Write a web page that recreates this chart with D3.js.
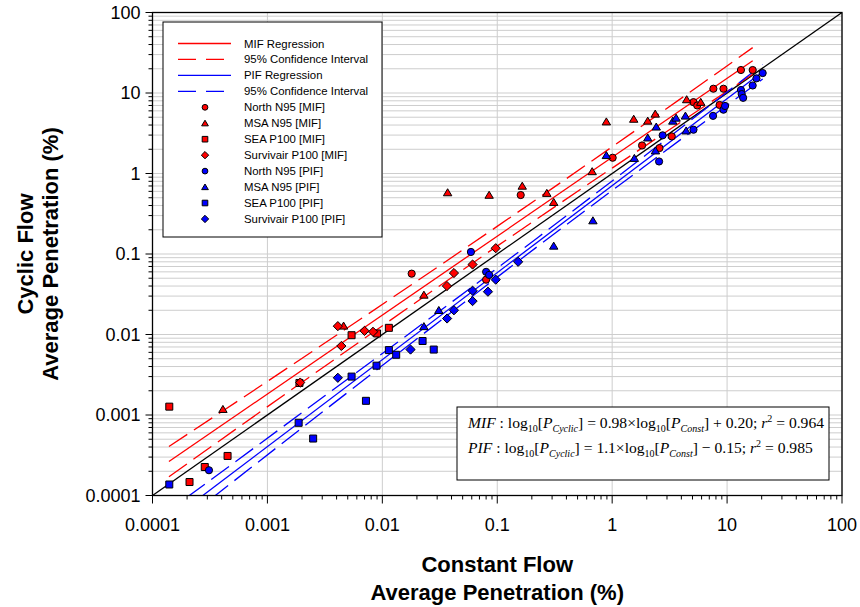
<!DOCTYPE html>
<html>
<head>
<meta charset="utf-8">
<script src="https://cdn.jsdelivr.net/npm/d3@7"></script>
<style>
body{margin:0;background:#fff;}
text{font-family:Arial,"Liberation Sans",sans-serif;}
</style>
</head>
<body>
<div id="chart-area"></div>
<script>
// data: [constant flow %, cyclic flow %]
var northMIF = [[0.018,0.057],[0.16,0.54],[0.080,0.048],[1.01,1.57],[1.82,2.23],[2.58,2.07],[3.3,2.89],[5.1,7.7],[5.5,7.0],[7.6,11.3],[9.3,11.3],[8.6,7.1],[13.2,19.3],[16.7,19.3]];
var msaMIF = [[0.00041,0.00118],[0.0046,0.0128],[0.023,0.031],[0.037,0.58],[0.085,0.54],[0.165,0.70],[0.27,0.57],[0.31,0.44],[0.67,1.06],[0.89,4.4],[1.54,4.75],[2.04,4.5],[2.37,5.5],[4.45,8.3],[5.9,7.7]];
var seaMIF = [[0.00014,0.00127],[0.00021,0.000147],[0.000285,0.000226],[0.00045,0.00031],[0.0019,0.0025],[0.0054,0.0098],[0.0090,0.0103],[0.0114,0.0121]];
var survMIF = [[0.00193,0.00253],[0.0041,0.0127],[0.0044,0.0072],[0.0070,0.0111],[0.0083,0.0108],[0.0365,0.040],[0.042,0.058],[0.061,0.074],[0.097,0.118]];
var northPIF = [[0.00031,0.000206],[0.059,0.106],[0.080,0.060],[0.085,0.055],[2.56,1.41],[2.75,2.98],[5.1,3.5],[7.55,5.2],[9.3,6.2],[9.6,6.9],[13.2,10.9],[13.4,9.7],[13.8,8.7],[16.7,12.4],[18.0,15.2],[20.4,17.7]];
var msaPIF = [[0.023,0.0126],[0.031,0.020],[0.31,0.126],[0.68,0.26],[0.89,1.68],[1.56,1.55],[2.04,2.78],[2.38,1.92],[2.42,3.8],[3.37,4.5],[3.6,4.9],[4.34,5.2],[4.4,3.4]];
var seaPIF = [[0.00014,0.000137],[0.00187,0.0008],[0.0025,0.00051],[0.0054,0.0030],[0.0072,0.0015],[0.0089,0.0041],[0.0114,0.0064],[0.0132,0.0056],[0.0224,0.0083],[0.028,0.0065]];
var survPIF = [[0.0041,0.0029],[0.0176,0.0065],[0.0366,0.0158],[0.042,0.020],[0.061,0.026],[0.061,0.035],[0.083,0.034],[0.097,0.048],[0.152,0.080]];

// regression lines and 95% bands
var mifFit = [[0.000139,0.000264],[16.7,25.1]];
var mifUpper = [[0.000139,0.000406],[0.00316,0.00783],[0.102,0.225],[2.0,4.29],[16.7,36.6]];
var mifLower = [[0.000139,0.000171],[0.00316,0.00404],[0.102,0.128],[2.0,2.27],[16.7,17.1]];
var pifFit = [[0.000274,0.0001],[20.4,18.4]];
var pifUpper = [[0.0002,0.0000953],[0.00316,0.00173],[0.0631,0.0409],[0.229,0.163],[2.0,1.73],[20.4,22.7]];
var pifLower = [[0.0002,0.0000531],[0.00316,0.00115],[0.0631,0.0312],[0.229,0.127],[2.0,1.285],[20.4,14.9]];
var unity = [[0.0001,0.0001],[100,100]];

var tickValues = [0.0001,0.001,0.01,0.1,1,10,100];
var tickLabels = ["0.0001","0.001","0.01","0.1","1","10","100"];

var seriesNames = ["North N95 [MIF]","MSA N95 [MIF]","SEA P100 [MIF]","Survivair P100 [MIF]",
	"North N95 [PIF]","MSA N95 [PIF]","SEA P100 [PIF]","Survivair P100 [PIF]"];
var seriesData = [northMIF, msaMIF, seaMIF, survMIF, northPIF, msaPIF, seaPIF, survPIF];
var seriesShape = ["circle","triangle","square","diamond","circle","triangle","square","diamond"];
var seriesColor = ["#ff0000","#ff0000","#ff0000","#ff0000","#0000ff","#0000ff","#0000ff","#0000ff"];

//layout
var W = 860, H = 607;
var plot = {left:152.5, right:842, top:12.5, bottom:495.5};

var svg = d3.select("#chart-area")
	.append("svg")
		.attr("width", W)
		.attr("height", H);

var x = d3.scaleLog().domain([0.0001,100]).range([plot.left, plot.right]);
var y = d3.scaleLog().domain([0.0001,100]).range([plot.bottom, plot.top]);

svg.append("clipPath").attr("id","clip")
	.append("rect")
		.attr("x", plot.left).attr("y", plot.top)
		.attr("width", plot.right - plot.left).attr("height", plot.bottom - plot.top);

//grid: every minor value on y, decades only on x
var grid = svg.append("g").attr("stroke","#cdcdcd").attr("stroke-width",1);
grid.selectAll(".hg").data(y.ticks()).enter().append("line")
	.attr("x1", plot.left).attr("x2", plot.right)
	.attr("y1", d=>y(d)).attr("y2", d=>y(d));
grid.selectAll(".vg").data(tickValues).enter().append("line")
	.attr("y1", plot.top).attr("y2", plot.bottom)
	.attr("x1", d=>x(d)).attr("x2", d=>x(d));

var line = d3.line().x(d=>x(d[0])).y(d=>y(d[1])).curve(d3.curveMonotoneX);
var lines = svg.append("g").attr("clip-path","url(#clip)").attr("fill","none").attr("stroke-width",1.3);

lines.append("path").attr("d", line(unity)).attr("stroke","#000");
[[mifUpper,"#ff0000",true],[mifLower,"#ff0000",true],[mifFit,"#ff0000",false],
 [pifUpper,"#0000ff",true],[pifLower,"#0000ff",true],[pifFit,"#0000ff",false]].forEach(l=>{
	lines.append("path")
		.attr("d", line(l[0]))
		.attr("stroke", l[1])
		.attr("stroke-dasharray", l[2] ? "22,8" : null);
});

//markers
function shapePath(shape, k) {
	if (shape == "circle") return d3.symbol().type(d3.symbolCircle).size(Math.PI*3.6*3.6*k*k)();
	if (shape == "square") { var s = 3.5*k; return "M"+(-s)+","+(-s)+"H"+s+"V"+s+"H"+(-s)+"Z"; }
	if (shape == "triangle") { var w = 4.2*k, h = 3.8*k; return "M0,"+(-h)+"L"+w+","+(h*0.85)+"L"+(-w)+","+(h*0.85)+"Z"; }
	var r = 4.6*k; return "M0,"+(-r)+"L"+r+",0L0,"+r+"L"+(-r)+",0Z";
}

var pts = svg.append("g").attr("stroke","#000").attr("stroke-width",1);
seriesData.forEach((data,i)=>{
	pts.selectAll(".s"+i).data(data).enter().append("path")
		.attr("class","s"+i)
		.attr("d", shapePath(seriesShape[i], 1))
		.attr("fill", seriesColor[i])
		.attr("transform", d=>"translate(" + x(d[0]) + "," + y(d[1]) + ")");
});

//axes
var xAxis = svg.append("g").attr("transform","translate(0," + plot.bottom + ")");
var yAxis = svg.append("g").attr("transform","translate(" + plot.left + ",0)");
xAxis.selectAll(".mt").data(x.ticks()).enter().append("line")
	.attr("x1", d=>x(d)).attr("x2", d=>x(d))
	.attr("y1", 0).attr("y2", d=>tickValues.indexOf(d) >= 0 ? 8 : 4)
	.attr("stroke","#000");
yAxis.selectAll(".mt").data(y.ticks()).enter().append("line")
	.attr("y1", d=>y(d)).attr("y2", d=>y(d))
	.attr("x1", 0).attr("x2", d=>tickValues.indexOf(d) >= 0 ? -7 : -4)
	.attr("stroke","#000");
xAxis.selectAll(".tl").data(tickValues).enter().append("text")
	.attr("x", d=>x(d)).attr("y", 35)
	.attr("text-anchor","middle")
	.attr("font-size", "18px")
	.text((d,i)=>tickLabels[i]);
yAxis.selectAll(".tl").data(tickValues).enter().append("text")
	.attr("x", -12).attr("y", d=>y(d) + 6)
	.attr("text-anchor","end")
	.attr("font-size", "18px")
	.text((d,i)=>tickLabels[i]);

svg.append("rect")
	.attr("x", plot.left).attr("y", plot.top)
	.attr("width", plot.right - plot.left).attr("height", plot.bottom - plot.top)
	.attr("fill","none").attr("stroke","#000").attr("stroke-width",1.3);

//axis titles
var cx = (plot.left + plot.right)/2, cy = (plot.top + plot.bottom)/2;
svg.append("text").attr("x", cx).attr("y", 572).attr("text-anchor","middle")
	.attr("font-size","22px").attr("font-weight","bold").text("Constant Flow");
svg.append("text").attr("x", cx).attr("y", 600).attr("text-anchor","middle")
	.attr("font-size","22px").attr("font-weight","bold").text("Average Penetration (%)");
svg.append("text").attr("transform","translate(33," + cy + ") rotate(-90)").attr("text-anchor","middle")
	.attr("font-size","22px").attr("font-weight","bold").text("Cyclic Flow");
svg.append("text").attr("transform","translate(58," + cy + ") rotate(-90)").attr("text-anchor","middle")
	.attr("font-size","22px").attr("font-weight","bold").text("Average Penetration (%)");

//legend
var legend = svg.append("g");
legend.append("rect")
	.attr("x",163).attr("y",22).attr("width",219).attr("height",215)
	.attr("fill","#fff").attr("stroke","#000").attr("stroke-width",1);
var legendLines = [["MIF Regression","#ff0000",false],["95% Confidence Interval","#ff0000",true],
	["PIF Regression","#0000ff",false],["95% Confidence Interval","#0000ff",true]];
var rowY = i => 43.5 + i*15.95;
legendLines.forEach((l,i)=>{
	legend.append("line")
		.attr("x1",178).attr("x2",231).attr("y1",rowY(i)).attr("y2",rowY(i))
		.attr("stroke",l[1]).attr("stroke-width",1.3)
		.attr("stroke-dasharray", l[2] ? "18,10" : null);
	legend.append("text").attr("x",244).attr("y",rowY(i)+4)
		.attr("font-size","11.4px").text(l[0]);
});
seriesNames.forEach((name,i)=>{
	var yy = rowY(i+4);
	legend.append("path")
		.attr("d", shapePath(seriesShape[i], 0.8))
		.attr("fill", seriesColor[i]).attr("stroke","#000")
		.attr("transform","translate(205," + yy + ")");
	legend.append("text").attr("x",244).attr("y",yy+4)
		.attr("font-size","11.4px").text(name);
});

//equation box
var eq = svg.append("g");
eq.append("rect").attr("x",457).attr("y",407).attr("width",372).attr("height",73)
	.attr("fill","#fff").attr("stroke","#000").attr("stroke-width",1);
var eq1 = [["MIF","i"],[" : log",""],["10","sub"],["[",""],["P","i"],["Cyclic","isub"],["] = 0.98×log",""],["10","sub"],
	["[",""],["P","i"],["Const","isub"],["] + 0.20; ",""],["r","i"],["2","sup"],[" = 0.964",""]];
var eq2 = [["PIF","i"],[" : log",""],["10","sub"],["[",""],["P","i"],["Cyclic","isub"],["] = 1.1×log",""],["10","sub"],
	["[",""],["P","i"],["Const","isub"],["] − 0.15; ",""],["r","i"],["2","sup"],[" = 0.985",""]];
function equation(parts, yy) {
	var t = eq.append("text").attr("x",468).attr("y",yy)
		.style("font-family","'Liberation Serif','Times New Roman',serif").attr("font-size","15.6px");
	var shift = 0;
	parts.forEach(p=>{
		var target = p[1] == "sub" || p[1] == "isub" ? 4 : (p[1] == "sup" ? -6 : 0);
		var s = t.append("tspan").attr("dy", target - shift).text(p[0]);
		shift = target;
		if (p[1] == "i" || p[1] == "isub") s.attr("font-style","italic");
		if (target != 0) s.attr("font-size","10px");
	});
}
equation(eq1, 428);
equation(eq2, 453);
</script>
</body>
</html>
